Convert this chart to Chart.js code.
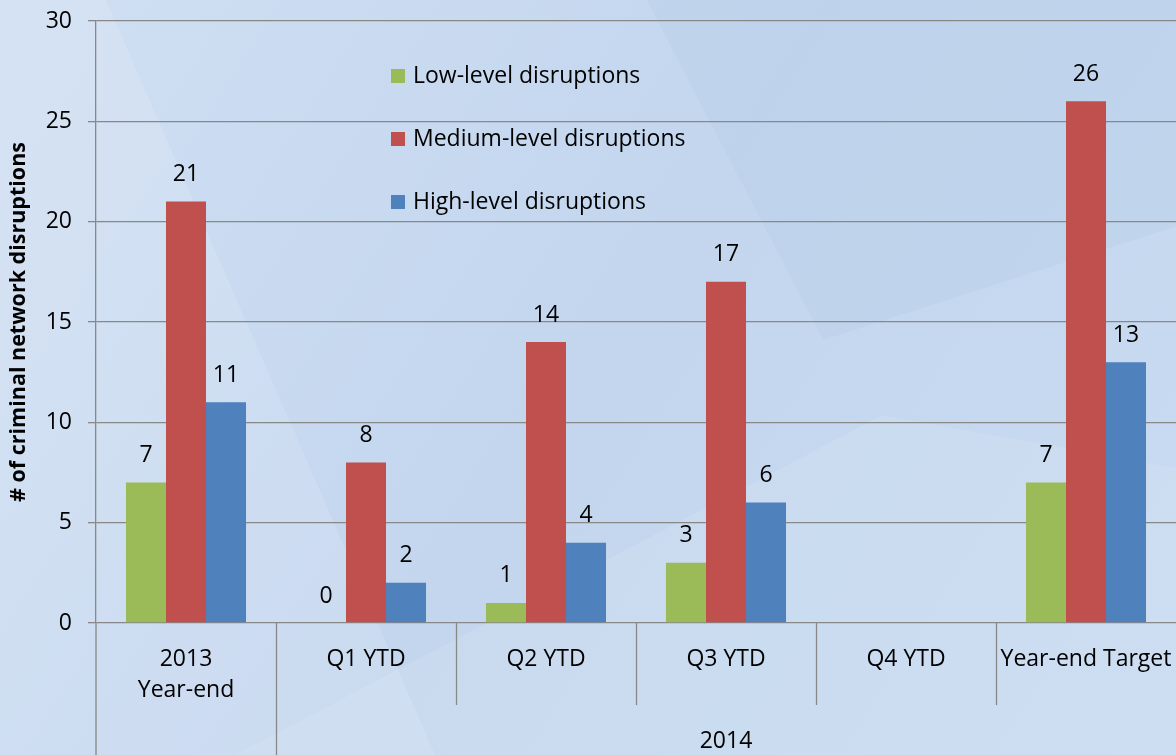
<!DOCTYPE html>
<html>
<head>
<meta charset="utf-8">
<script src="https://cdn.jsdelivr.net/npm/chart.js@4.4.0/dist/chart.umd.min.js"></script>
<style>
  html, body { margin: 0; padding: 0; overflow: hidden; background: #c8daf0; }
  #wrap { width: 1176px; height: 755px; }
</style>
</head>
<body>
<div id="wrap"><canvas id="chart" width="1176" height="755"></canvas></div>
<script>
// chart values
var categories = [['2013', 'Year-end'], 'Q1 YTD', 'Q2 YTD', 'Q3 YTD', 'Q4 YTD', 'Year-end Target'];
var groupLabel = '2014';          // spans Q1 YTD .. Year-end Target
var seriesNames = ['Low-level disruptions', 'Medium-level disruptions', 'High-level disruptions'];
var lowLevel = [7, 0, 1, 3, null, 7];
var mediumLevel = [21, 8, 14, 17, null, 26];
var highLevel = [11, 2, 4, 6, null, 13];
var yMax = 30;
var yStep = 5;

var FONT = '"Open Sans", "Noto Sans", sans-serif';
var FS = 23;
var colors = ['#9bbb59', '#c0504d', '#4f81bd'];
var gridColor = '#888888';

// soft background like the original slide
var bgPlugin = {
  id: 'bg',
  beforeDraw: function (chart) {
    var c = chart.ctx, w = chart.width, h = chart.height;
    c.save();
    var g = c.createLinearGradient(0, 0, w, h);
    g.addColorStop(0, '#d0dff3');
    g.addColorStop(0.5, '#c3d6ee');
    g.addColorStop(1, '#c9dbf1');
    c.fillStyle = g;
    c.fillRect(0, 0, w, h);
    c.fillStyle = 'rgba(255,255,255,0.12)';
    c.beginPath();
    c.moveTo(0, 0); c.lineTo(w * 0.09, 0); c.lineTo(w * 0.37, h); c.lineTo(0, h);
    c.closePath(); c.fill();
    c.fillStyle = 'rgba(255,255,255,0.10)';
    c.beginPath();
    c.moveTo(w * 0.2, h); c.lineTo(w * 0.75, h * 0.55); c.lineTo(w, h * 0.62); c.lineTo(w, h);
    c.closePath(); c.fill();
    c.fillStyle = 'rgba(150,180,220,0.10)';
    c.beginPath();
    c.moveTo(w * 0.55, 0); c.lineTo(w, 0); c.lineTo(w, h * 0.3); c.lineTo(w * 0.7, h * 0.45);
    c.closePath(); c.fill();
    c.restore();
  }
};

// category separators below the axis, group label, value labels, legend
var decorPlugin = {
  id: 'decor',
  afterDatasetsDraw: function (chart) {
    var c = chart.ctx;
    c.save();
    c.font = FS + 'px ' + FONT;
    c.fillStyle = '#000';
    c.textAlign = 'center';
    c.textBaseline = 'middle';
    chart.data.datasets.forEach(function (ds, di) {
      var meta = chart.getDatasetMeta(di);
      meta.data.forEach(function (el, i) {
        var v = ds.data[i];
        if (v === null || v === undefined) return;
        c.fillText(String(v), el.x, el.y - 27);
      });
    });
    c.restore();
  },
  afterDraw: function (chart) {
    var c = chart.ctx, x = chart.scales.x, area = chart.chartArea;
    var half = (x.getPixelForValue(1) - x.getPixelForValue(0)) / 2;
    c.save();
    c.strokeStyle = gridColor;
    c.lineWidth = 1.3;
    // left axis continues down to the bottom
    c.beginPath();
    c.moveTo(x.left, area.bottom); c.lineTo(x.left, chart.height);
    categories.forEach(function (cat, i) {
      if (i === 0) return;
      var px = Math.round(x.getPixelForValue(i) - half) + 0.5;
      c.moveTo(px, area.bottom);
      c.lineTo(px, i === 1 ? chart.height : area.bottom + 82);
    });
    c.stroke();

    c.font = FS + 'px ' + FONT;
    c.fillStyle = '#000';
    c.textAlign = 'center';
    c.textBaseline = 'middle';
    var gx = ((x.getPixelForValue(1) - half) + x.right) / 2;
    c.fillText(groupLabel, gx, area.bottom + 118);

    // legend inside the plot area
    var lx = area.left + 295, ly = area.top + 55;
    c.textAlign = 'left';
    chart.data.datasets.forEach(function (ds, di) {
      var yy = ly + di * 63;
      c.fillStyle = ds.backgroundColor;
      c.fillRect(lx, yy - 7, 14, 14);
      c.fillStyle = '#000';
      c.fillText(ds.label, lx + 22, yy);
    });
    c.restore();
  }
};

var seriesData = [lowLevel, mediumLevel, highLevel];

new Chart(document.getElementById('chart'), {
  type: 'bar',
  data: {
    labels: categories,
    datasets: seriesNames.map(function (name, i) {
      return {
        label: name,
        data: seriesData[i],
        backgroundColor: colors[i],
        borderWidth: 0,
        categoryPercentage: 0.667,
        barPercentage: 1.0
      };
    })
  },
  options: {
    responsive: false,
    animation: false,
    devicePixelRatio: 1,
    layout: { padding: { top: 21, right: 0, bottom: 0, left: 0 } },
    plugins: {
      legend: { display: false },
      tooltip: { enabled: false }
    },
    scales: {
      x: {
        offset: true,
        grid: { display: false },
        border: { display: false },
        ticks: {
          color: '#000',
          font: { family: FONT, size: FS, lineHeight: 1.35 },
          maxRotation: 0, minRotation: 0, autoSkip: false,
          padding: 13
        },
        afterFit: function (s) {
          s.height = 132;
          s.paddingLeft = 0;
          s.paddingRight = 0;
        }
      },
      y: {
        min: 0, max: yMax,
        ticks: {
          stepSize: yStep,
          color: '#000',
          font: { family: FONT, size: FS, lineHeight: 0.4 },
          padding: 16
        },
        grid: { color: gridColor, lineWidth: 1.3, tickLength: 8 },
        border: { display: true, color: gridColor, width: 1.3 },
        title: {
          display: true,
          text: '# of criminal network disruptions',
          color: '#000',
          font: { family: FONT, size: 21.5, weight: 'bold' },
          padding: { top: 6, bottom: 0 }
        },
        afterFit: function (s) {
          s.width = 96;
          s.paddingTop = 0;
          s.paddingBottom = 0;
        }
      }
    }
  },
  plugins: [bgPlugin, decorPlugin]
});
</script>
</body>
</html>
